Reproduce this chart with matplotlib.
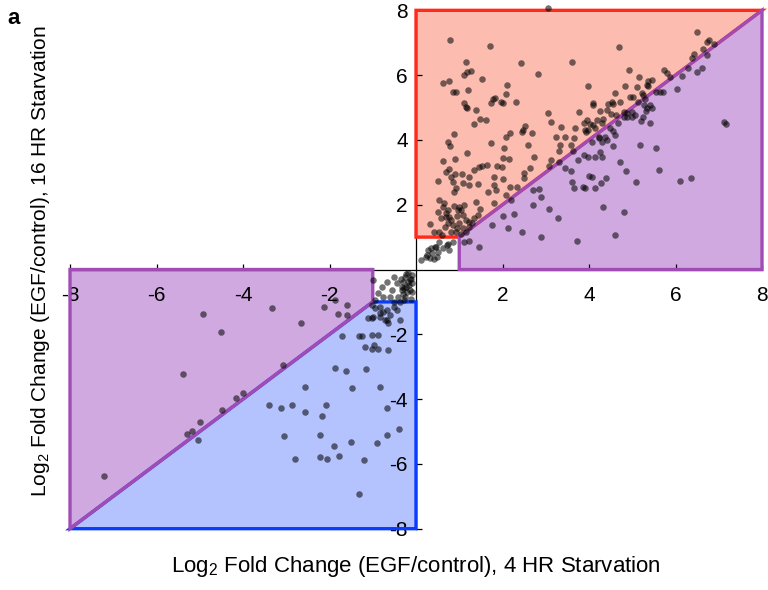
import matplotlib
matplotlib.use("Agg")
import matplotlib.pyplot as plt
from matplotlib.patches import Polygon

plt.rcParams["font.family"] = ["Liberation Sans", "DejaVu Sans"]
plt.rcParams["mathtext.default"] = "regular"
plt.rcParams["axes.unicode_minus"] = False

# Genes induced in both conditions (log2 fold change, 4 h vs 16 h starvation)
up_x4 = [
    3.06, 0.78, 1.70, 1.16, 2.43, 3.61, 1.19, 1.27, 1.10, 2.81, 1.53, 0.62, 0.77, 2.10,
    1.21, 0.86, 0.92, 2.07, 1.82, 1.79, 1.74, 1.97, 2.00, 2.31, 1.11, 1.16, 1.18, 1.38,
    3.05, 3.77, 1.49, 1.61, 3.11, 1.33, 2.52, 2.47, 2.44, 3.35, 3.89, 3.68, 3.91, 3.93,
    2.69, 0.89, 2.17, 2.07, 3.24, 3.45, 3.66,
    0.75, 0.79, 1.73, 2.04, 2.58, 3.34, 3.58, 3.31, 3.62, 1.19, 0.63, 0.91, 1.52, 1.64,
    1.35, 1.46, 2.00, 2.16, 1.87, 1.98, 2.72, 3.12, 3.08, 2.64, 2.49, 2.50, 0.77, 0.81,
    0.69, 0.91, 1.06, 1.22, 1.08, 0.50, 0.85, 0.92, 0.89, 1.43, 1.23, 1.80, 1.80, 2.02,
    1.66, 1.85, 2.18, 2.33, 2.08, 2.20, 1.81, 1.39, 1.48, 0.54, 0.62, 0.50, 0.69, 0.77,
    0.58, 0.73, 0.85, 1.00, 0.96, 1.08, 1.16, 1.23, 1.35, 1.43, 1.23, 1.08, 0.92, 0.32,
    0.42, 0.54, 0.81,
    0.65, 0.75, 0.88, 0.95, 1.05, 1.12, 1.00, 0.82, 0.66, 0.95, 1.15, 1.30, 0.70, 1.05,
    0.60,
    0.35, 0.38, 0.27, 0.46, 0.62, 0.77, 0.12, 0.23, 0.42, 0.73, 0.85, 0.54, 0.25, 0.52,
    0.32, 0.48, 0.44, 0.71,
    1.12, 1.23, 1.46, 1.76, 2.00, 2.27, 2.12, 2.45, 2.70, 2.89, 3.07, 3.29, 3.72, 2.71,
    2.85, 2.90, 3.45, 3.58, 3.61, 3.66, 3.85, 3.74, 3.89, 4.01, 3.31,
    6.50, 4.69, 6.77, 6.73, 6.90, 6.64, 6.43, 6.37, 6.72, 6.30, 6.50, 6.61, 6.16, 5.73,
    5.80, 5.88, 6.03, 4.92, 5.16, 3.98, 4.83, 5.10, 5.37, 5.33, 5.45, 5.37, 4.59, 4.95,
    5.02, 5.22, 5.26, 5.29, 5.54, 5.64, 5.72, 4.10, 4.10, 4.45, 4.54, 4.56, 4.72, 4.25,
    4.41, 5.14, 5.28, 5.40, 5.45, 4.82, 4.87, 4.99, 5.06, 5.33, 5.32, 4.62, 4.52, 3.95,
    4.02, 4.18, 4.33, 4.29, 4.10, 4.68, 4.82, 4.89, 4.99, 5.20, 5.26, 5.41, 3.98, 4.49,
    4.56, 4.60, 4.22, 4.14, 4.37, 7.13, 7.16,
    4.06, 4.22, 4.29, 4.41, 4.55, 5.18, 5.54, 4.25, 3.97, 4.14, 4.29, 4.72, 4.86, 5.62,
    4.06, 4.39, 4.27, 3.91, 4.14, 5.08, 6.10, 6.36, 4.33, 4.80, 4.59,
]
up_y16 = [
    8.08, 7.09, 6.89, 6.40, 6.38, 6.40, 6.10, 6.13, 6.01, 6.02, 5.88, 5.75, 5.82, 5.69,
    5.55, 5.47, 5.47, 5.42, 5.30, 5.25, 5.13, 5.18, 5.15, 5.16, 5.14, 5.02, 5.00, 4.93,
    4.82, 4.87, 4.65, 4.60, 4.56, 4.50, 4.44, 4.31, 4.24, 4.41, 4.51, 4.36, 4.31, 4.23,
    4.22, 4.18, 4.21, 4.10, 4.08, 4.08, 4.07,
    3.93, 3.80, 3.90, 3.74, 3.84, 3.84, 3.84, 3.66, 3.66, 3.59, 3.35, 3.40, 3.20, 3.22,
    3.07, 3.17, 3.45, 3.40, 3.19, 3.16, 3.46, 3.37, 3.20, 3.12, 2.97, 2.81, 3.10, 2.87,
    3.00, 2.94, 2.94, 2.85, 2.66, 2.74, 2.71, 2.51, 2.40, 2.63, 2.61, 2.86, 2.61, 2.79,
    2.40, 2.45, 2.56, 2.56, 2.30, 2.14, 2.05, 2.09, 1.87, 2.14, 1.94, 1.78, 1.73, 1.63,
    1.58, 1.43, 1.37, 1.94, 1.84, 1.68, 1.53, 1.48, 1.58, 1.68, 1.32, 1.27, 1.17, 1.40,
    1.17, 1.15, 1.17,
    2.05, 1.85, 1.95, 1.65, 1.85, 2.00, 1.45, 1.52, 1.30, 1.28, 1.15, 1.45, 1.62, 1.10,
    1.05,
    0.66, 0.50, 0.60, 0.70, 0.66, 0.60, 0.29, 0.40, 0.33, 0.78, 0.86, 0.86, 0.45, 0.55,
    0.35, 0.40, 0.70, 0.76,
    0.86, 0.88, 0.70, 1.37, 1.65, 1.70, 1.27, 1.17, 1.99, 1.01, 1.87, 1.60, 0.88, 2.45,
    2.50, 2.25, 3.12, 3.04, 2.71, 2.53, 2.56, 3.38, 3.54, 2.88, 3.33,
    7.32, 6.88, 7.08, 7.03, 6.95, 6.81, 6.64, 6.54, 6.62, 6.23, 6.10, 6.23, 5.97, 6.16,
    6.06, 5.95, 5.57, 6.16, 5.93, 5.65, 5.67, 5.62, 5.82, 5.70, 5.85, 5.65, 5.45, 5.34,
    5.31, 5.44, 5.39, 5.27, 5.49, 5.47, 5.47, 5.13, 5.08, 5.11, 5.18, 5.10, 5.18, 4.90,
    4.93, 5.16, 5.08, 5.08, 5.00, 4.87, 4.82, 4.87, 4.77, 4.98, 4.90, 4.77, 4.79, 4.61,
    4.49, 4.61, 4.66, 4.51, 4.46, 4.51, 4.70, 4.70, 4.70, 4.58, 4.72, 4.51, 4.31, 4.38,
    4.28, 4.15, 4.10, 4.36, 4.10, 4.56, 4.48,
    3.93, 4.05, 3.95, 3.99, 3.80, 3.85, 3.74, 3.62, 3.48, 3.46, 3.46, 3.33, 3.04, 3.07,
    2.86, 2.84, 2.66, 2.53, 2.51, 2.71, 2.73, 2.82, 1.94, 1.77, 1.06,
]

# Genes repressed in both conditions
down_x4 = [
    -7.21, -5.39, -4.93, -4.50, -3.32, -2.66, -3.07, -4.49, -4.17, -3.99, -4.99, -5.30,
    -5.19, -5.05, -2.12, -1.87, -1.59, -1.80, -1.60, -1.70, -1.31, -1.26, -1.18, -1.02,
    -0.96, -0.89, -0.89, -1.01, -0.65, -1.87, -1.63, -1.16, -2.57, -1.47, -0.83, -3.39,
    -3.11, -2.87, -2.56, -2.08, -2.17, -0.68, -0.39, -3.06, -2.22, -1.90, -1.51, -0.91,
    -0.68, -2.80, -2.22, -2.05, -1.77, -1.20, -1.31, -0.37, -0.83, -0.68, -1.10, -0.99,
    -0.64,
    -0.99, -0.68, -0.79, -0.87, -0.76, -0.95, -1.02, -0.52, -0.45, -0.56, -0.60, -0.52,
    -0.41, -0.33, -0.25, -0.18, -0.10, -0.22, -0.14, -0.25, -0.37, -0.29, -0.18, -0.10,
    -0.95, -0.83, -0.76, -0.68, -0.60, -0.83, -0.72, -0.52, -0.45, -1.02,
    -0.15, -0.20, -0.12, -0.30, -0.35, -0.28, -0.22, -0.12, -0.17, -0.27, -0.10, -0.32,
]
down_y16 = [
    -6.36, -3.23, -1.37, -1.92, -1.18, -1.64, -2.95, -4.34, -3.96, -3.82, -4.70, -5.08,
    -4.98, -5.26, -1.17, -0.94, -1.10, -1.37, -1.40, -2.05, -2.04, -2.05, -2.38, -2.46,
    -2.33, -2.46, -2.02, -2.02, -2.48, -3.05, -3.12, -3.08, -3.62, -3.67, -3.62, -4.19,
    -4.26, -4.18, -4.41, -4.18, -4.52, -4.26, -4.91, -5.13, -5.10, -5.44, -5.31, -5.37,
    -5.12, -5.85, -5.80, -5.84, -5.76, -5.88, -6.94, -1.56, -1.35, -1.56, -1.51, -1.46,
    -1.66,
    -0.32, -0.38, -0.53, -0.73, -0.84, -0.94, -1.10, -0.22, -0.43, -0.63, -0.84, -0.99,
    -0.84, -0.63, -0.22, -0.12, -0.17, -0.53, -0.63, -0.84, -0.99, -0.38, -0.38, -0.43,
    -1.20, -1.15, -1.30, -1.25, -1.40, -1.46, -1.56, -1.15, -1.25, -1.51,
    -0.28, -0.70, -0.90, -0.75, -0.30, -0.95, -0.15, -0.30, -0.48, -0.58, -0.70, -0.55,
]

x_ticks = [-8, -6, -4, -2, 2, 4, 6, 8]
y_ticks = [-8, -6, -4, -2, 2, 4, 6, 8]

lim = 8.0      # axis extent (log2 units)
cut = 1.0      # fold-change threshold

fig = plt.figure(figsize=(7.68, 5.90), dpi=100)
ax = fig.add_axes([0.09115, 0.1039, 0.90104, 0.8786])
ax.set_xlim(-lim, lim)
ax.set_ylim(-lim, lim)

red_fill, red_edge = "#fcbcb0", "#ff2a1a"
pur_fill, pur_edge = "#d0a9e0", "#a04cb4"
blu_fill, blu_edge = "#b4c2fe", "#0a3cff"

# drawn in this order so the purple diagonal sits on top of its neighbours
regions = [
    ([(0, cut), (0, lim), (lim, lim), (cut, cut)], red_fill, red_edge),
    ([(-cut, -cut), (0, -cut), (0, -lim), (-lim, -lim)], blu_fill, blu_edge),
    ([(cut, 0), (lim, 0), (lim, lim), (cut, cut)], pur_fill, pur_edge),
    ([(-lim, 0), (-cut, 0), (-cut, -cut), (-lim, -lim)], pur_fill, pur_edge),
]
for verts, fc, ec in regions:
    ax.add_patch(Polygon(verts, closed=True, facecolor=fc, edgecolor="none",
                         zorder=1, clip_on=False))
for verts, fc, ec in regions:
    ax.add_patch(Polygon(verts, closed=True, facecolor="none", edgecolor=ec,
                         linewidth=2.4, joinstyle="miter", zorder=3, clip_on=False))

ax.scatter(up_x4, up_y16, s=22, color="black", alpha=0.55, linewidths=0,
           zorder=4, clip_on=False)
ax.scatter(down_x4, down_y16, s=22, color="black", alpha=0.55, linewidths=0,
           zorder=4, clip_on=False)

for side in ("top", "right"):
    ax.spines[side].set_visible(False)
for side in ("left", "bottom"):
    ax.spines[side].set_position("zero")
    ax.spines[side].set_linewidth(0.9)
    ax.spines[side].set_zorder(2)

ax.set_xticks(x_ticks)
ax.set_xticklabels([str(v) for v in x_ticks])
ax.set_yticks(y_ticks)
ax.set_yticklabels([str(v) for v in y_ticks])
ax.tick_params(axis="x", direction="in", length=4, width=0.9, pad=12, labelsize=15)
ax.tick_params(axis="y", direction="in", length=4, width=0.9, pad=6, labelsize=15)

ax.set_xlabel("Log$_2$ Fold Change (EGF/control), 4 HR Starvation", fontsize=16,
              va="center")
ax.xaxis.set_label_coords(0.5, -0.072)
ax.set_ylabel("Log$_2$ Fold Change (EGF/control), 16 HR Starvation", fontsize=15,
              va="center")
ax.yaxis.set_label_coords(-0.042, 0.515)

fig.text(0.010, 0.968, "a", fontsize=16, fontweight="bold", va="center")

fig.savefig("out.png", dpi=100)
